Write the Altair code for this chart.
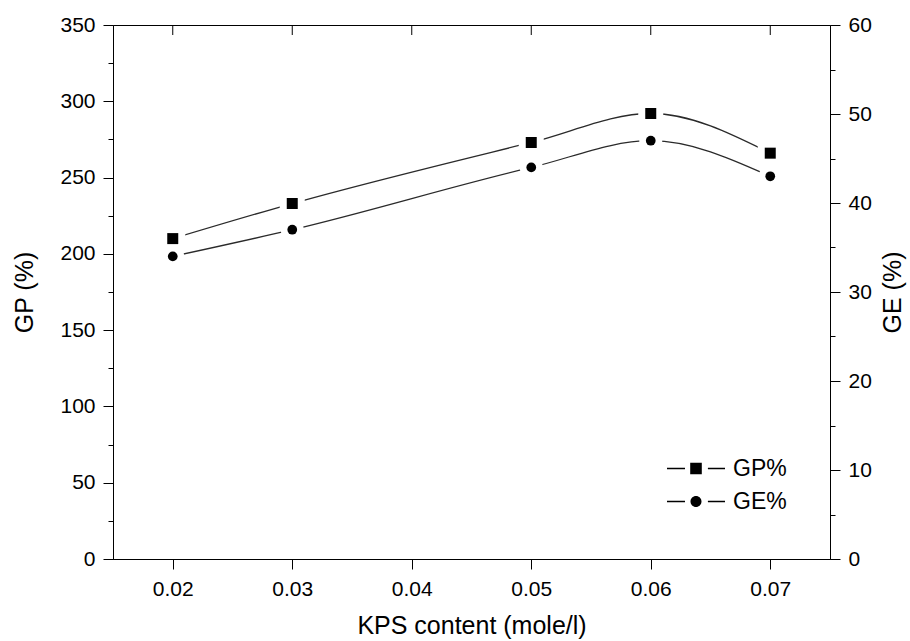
import altair as alt
import pandas as pd

# ---- data ----
kps = [0.02, 0.03, 0.05, 0.06, 0.07]
gp = [210, 233, 273, 292, 266]
ge = [34, 37, 44, 47, 43]
series_labels = ["GP%", "GE%"]
x_ticks = [0.02, 0.03, 0.04, 0.05, 0.06, 0.07]
gp_ticks = list(range(0, 351, 25))
ge_ticks = list(range(0, 61, 5))

df = pd.DataFrame({"kps": kps, "gp": gp, "ge": ge})
tick_df = pd.DataFrame({"kps": x_ticks})
legend_df = pd.DataFrame({"series": series_labels})

FONT = "Liberation Sans"
LINE = "#2a2a2a"

xscale = alt.Scale(domain=[0.015, 0.075], nice=False, zero=False)
x = alt.X(
    "kps:Q",
    scale=xscale,
    axis=alt.Axis(
        values=x_ticks, format=".2f", title="KPS content (mole/l)",
        tickSize=10, labelPadding=9, titlePadding=14,
        labelFontSize=21, titleFontSize=25, labelOverlap=False, labelFlush=False,
    ),
)

gp_y = alt.Y(
    "gp:Q",
    scale=alt.Scale(domain=[0, 350], nice=False, zero=True),
    axis=alt.Axis(
        orient="left", values=gp_ticks, title="GP (%)",
        labelExpr="datum.value % 50 === 0 ? datum.label : ''",
        tickSize={"condition": {"test": "datum.value % 50 === 0", "value": 10}, "value": 5},
        labelPadding=8, titlePadding=22, labelFontSize=21, titleFontSize=25,
        labelOverlap=False, labelFlush=False,
    ),
)

ge_y = alt.Y(
    "ge:Q",
    scale=alt.Scale(domain=[0, 60], nice=False, zero=True),
    axis=alt.Axis(
        orient="right", values=ge_ticks, title="GE (%)",
        labelExpr="datum.value % 10 === 0 ? datum.label : ''",
        tickSize={"condition": {"test": "datum.value % 10 === 0", "value": 10}, "value": 5},
        labelPadding=8, titlePadding=9, labelFontSize=21, titleFontSize=25,
        titleAngle=270, titleBaseline="top",
        labelOverlap=False, labelFlush=False,
    ),
)

base = alt.Chart(df)

gp_line = base.mark_line(interpolate="monotone", color=LINE, strokeWidth=1.3).encode(x=x, y=gp_y)
gp_halo = base.mark_point(shape="square", filled=True, color="white", size=625, opacity=1).encode(x=x, y=gp_y)
gp_pts = base.mark_point(shape="square", filled=True, color="black", size=121, opacity=1).encode(x=x, y=gp_y)

top_ticks = alt.Chart(tick_df).mark_rule(color="black", strokeWidth=1).encode(
    x=x, y=alt.value(0), y2=alt.value(10)
)

ge_line = base.mark_line(interpolate="monotone", color=LINE, strokeWidth=1.3).encode(x=x, y=ge_y)
ge_halo = base.mark_point(shape="circle", filled=True, color="white", size=530, opacity=1).encode(x=x, y=ge_y)
ge_pts = base.mark_point(shape="circle", filled=True, color="black", size=95, opacity=1).encode(x=x, y=ge_y)

sq_path = ("M-1,-0.022H-0.38V0.022H-1Z "
           "M-0.2,-0.2H0.2V0.2H-0.2Z "
           "M0.41,-0.022H1V0.022H0.41Z")
ci_path = ("M-1,-0.022H-0.38V0.022H-1Z "
           "M-0.19,0A0.19,0.19 0 1,0 0.19,0A0.19,0.19 0 1,0 -0.19,0Z "
           "M0.41,-0.022H1V0.022H0.41Z")

legend_layer = alt.Chart(legend_df).mark_point(filled=True, color="black", opacity=1).encode(
    shape=alt.Shape(
        "series:N",
        scale=alt.Scale(domain=series_labels, range=[sq_path, ci_path]),
        legend=alt.Legend(
            title=None, orient="none", legendX=554, legendY=428,
            symbolSize=3364, symbolStrokeWidth=0, symbolFillColor="black",
            symbolOpacity=1, labelFontSize=23, labelFont=FONT, labelColor="black",
            labelOffset=8, clipHeight=31, rowPadding=2, padding=0,
        ),
    )
).transform_filter("false")

gp_group = alt.layer(gp_line, gp_halo, gp_pts, top_ticks)
ge_group = alt.layer(ge_line, ge_halo, ge_pts)

chart = (
    alt.layer(gp_group, ge_group, legend_layer)
    .resolve_scale(y="independent")
    .properties(
        width=717, height=534,
        padding={"left": 113, "top": 25, "right": 80, "bottom": 82},
        autosize=alt.AutoSizeParams(type="none"),
        background="white",
    )
    .configure_view(stroke="black", strokeWidth=1)
    .configure_axis(
        domainColor="black", tickColor="black", labelColor="black", titleColor="black",
        labelFont=FONT, titleFont=FONT, titleFontWeight="normal", grid=False,
        domainWidth=1, tickWidth=1,
    )
)

chart.save("out.html", embed_options={"renderer": "svg", "actions": False})
